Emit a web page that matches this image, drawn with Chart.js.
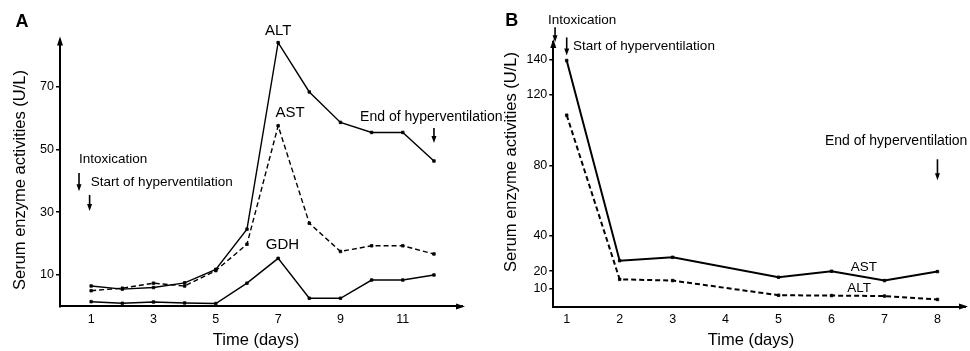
<!DOCTYPE html>
<html>
<head>
<meta charset="utf-8">
<script src="https://cdn.jsdelivr.net/npm/chart.js@4.4.1/dist/chart.umd.min.js"></script>
<style>
  body { margin: 0; background: #fff; }
  canvas { position: absolute; top: 0; }
  #chartA { left: 0; }
  #chartB { left: 485px; }
</style>
</head>
<body>
<canvas id="chartA" width="520" height="351"></canvas>
<canvas id="chartB" width="485" height="351"></canvas>
<script>
// Panel A data (days 1-12)
const daysA = [1, 2, 3, 4, 5, 6, 7, 8, 9, 10, 11, 12];
const altA = [6.5, 5.5, 6.0, 7.5, 11.8, 24.6, 84.0, 68.3, 58.6, 55.4, 55.4, 46.3];
const astA = [5.0, 5.8, 7.4, 6.5, 11.4, 19.8, 57.5, 26.5, 17.5, 19.3, 19.3, 16.7];
const gdhA = [1.5, 1.0, 1.4, 1.1, 0.9, 7.4, 15.3, 2.6, 2.6, 8.4, 8.4, 10.0];
const xTicksA = [1, 3, 5, 7, 9, 11];
const yTicksA = [10, 30, 50, 70];

// Panel B data
const daysB = [1, 2, 3, 5, 6, 7, 8];
const astB = [139.5, 26.0, 27.9, 16.6, 20.0, 14.7, 19.8];
const altB = [108.5, 15.4, 14.7, 6.4, 6.2, 5.9, 4.0];
const xTicksB = [1, 2, 3, 4, 5, 6, 7, 8];
const yTicksB = [10, 20, 40, 80, 120, 140];

const FONT = "'Liberation Sans', Arial, Helvetica, sans-serif";

function pts(xs, ys) {
  return xs.map((x, i) => ({ x: x, y: ys[i] }));
}

function drawArrow(ctx, x, y1, y2, head, half, lw) {
  ctx.lineWidth = lw;
  ctx.beginPath();
  ctx.moveTo(x, y1);
  ctx.lineTo(x, y2 - head + 1);
  ctx.stroke();
  ctx.beginPath();
  ctx.moveTo(x, y2);
  ctx.lineTo(x - half, y2 - head);
  ctx.lineTo(x + half, y2 - head);
  ctx.closePath();
  ctx.fill();
}

const panelDecor = {
  id: "panelDecor",
  afterDraw(chart, args, opts) {
    const { ctx, chartArea: a, scales: { x, y } } = chart;
    ctx.save();
    ctx.fillStyle = "#000";
    ctx.strokeStyle = "#000";

    // axis arrowheads
    ctx.beginPath();
    ctx.moveTo(a.right + 3, a.bottom);
    ctx.lineTo(a.right - 6, a.bottom - 3);
    ctx.lineTo(a.right - 6, a.bottom + 3);
    ctx.closePath();
    ctx.fill();
    ctx.beginPath();
    ctx.moveTo(a.left, a.top - 3);
    ctx.lineTo(a.left - 3, a.top + 6);
    ctx.lineTo(a.left + 3, a.top + 6);
    ctx.closePath();
    ctx.fill();

    // text notes placed in data coordinates
    ctx.textBaseline = "middle";
    opts.notes.forEach(n => {
      ctx.font = n.font;
      ctx.textAlign = n.align || "center";
      ctx.fillText(n.text, x.getPixelForValue(n.x), y.getPixelForValue(n.y));
    });

    // down arrows
    opts.arrows.forEach(r => {
      drawArrow(ctx, x.getPixelForValue(r.x), y.getPixelForValue(r.y1), y.getPixelForValue(r.y2), 7, 2.5, 1.6);
    });

    // panel letter
    ctx.font = "bold 18px " + FONT;
    ctx.textAlign = "center";
    ctx.fillText(opts.letter.text, opts.letter.x, opts.letter.y);

    // axis titles
    ctx.font = "16.5px " + FONT;
    ctx.fillText("Time (days)", opts.xTitle.x, opts.xTitle.y);
    ctx.save();
    ctx.translate(opts.yTitle.x, opts.yTitle.y);
    ctx.rotate(-Math.PI / 2);
    ctx.fillText("Serum enzyme activities (U/L)", 0, 0);
    ctx.restore();

    ctx.restore();
  }
};

function lineSet(label, data, dashed, lw) {
  return {
    label: label,
    data: data,
    borderColor: "#000",
    backgroundColor: "#000",
    borderWidth: lw,
    borderDash: dashed ? [5, 3] : [],
    pointStyle: "rect",
    pointRadius: 1.8,
    pointBorderWidth: 0.8,
    pointBackgroundColor: "#000",
    pointBorderColor: "#000",
    tension: 0,
    fill: false
  };
}

function makeChart(id, datasets, cfg) {
  return new Chart(document.getElementById(id), {
    type: "line",
    data: { datasets: datasets },
    options: {
      responsive: false,
      animation: false,
      layout: { padding: cfg.padding },
      plugins: {
        legend: { display: false },
        tooltip: { enabled: false },
        panelDecor: cfg.decor
      },
      scales: {
        x: {
          type: "linear",
          min: cfg.xMin,
          max: cfg.xMax,
          afterBuildTicks: s => { s.ticks = cfg.xTicks.map(v => ({ value: v })); },
          afterFit: s => { s.height = cfg.xHeight; },
          grid: { display: false, drawTicks: false },
          border: { display: true, color: "#000", width: 2 },
          ticks: { color: "#000", padding: 6, font: { family: FONT, size: 12.5 } }
        },
        y: {
          min: 0,
          max: cfg.yMax,
          afterBuildTicks: s => { s.ticks = cfg.yTicks.map(v => ({ value: v })); },
          afterFit: s => { s.width = cfg.yWidth; },
          grid: { drawOnChartArea: false, drawTicks: true, tickLength: 4, color: "#000", lineWidth: 1.5 },
          border: { display: true, color: "#000", width: 2 },
          ticks: { color: "#000", padding: 2, font: { family: FONT, size: 12.5 } }
        }
      }
    },
    plugins: [panelDecor]
  });
}

// Panel A
makeChart("chartA", [
  lineSet("ALT", pts(daysA, altA), false, 1.4),
  lineSet("AST", pts(daysA, astA), true, 1.4),
  lineSet("GDH", pts(daysA, gdhA), false, 1.4)
], {
  padding: { left: 0, right: 58, top: 39.5, bottom: 0 },
  xMin: 0, xMax: 12.9, yMax: 85,
  xTicks: xTicksA, yTicks: yTicksA,
  xHeight: 44.6, yWidth: 60,
  decor: {
    letter: { text: "A", x: 22, y: 22 },
    xTitle: { x: 256, y: 340 },
    yTitle: { x: 20, y: 180 },
    notes: [
      { text: "ALT", x: 7, y: 87.7, font: "15px " + FONT },
      { text: "AST", x: 7.38, y: 61.6, font: "15px " + FONT },
      { text: "GDH", x: 7.14, y: 19.5, font: "15px " + FONT },
      { text: "End of hyperventilation", x: 9.63, y: 60.3, align: "left", font: "14px " + FONT },
      { text: "Intoxication", x: 0.61, y: 47, align: "left", font: "13.5px " + FONT },
      { text: "Start of hyperventilation", x: 0.99, y: 39.6, align: "left", font: "13.5px " + FONT }
    ],
    arrows: [
      { x: 12, y1: 56.8, y2: 52 },
      { x: 0.61, y1: 42.5, y2: 36.7 },
      { x: 0.95, y1: 35.5, y2: 30.4 }
    ]
  }
});

// Panel B
makeChart("chartB", [
  lineSet("AST", pts(daysB, astB), false, 2),
  lineSet("ALT", pts(daysB, altB), true, 2)
], {
  padding: { left: 0, right: 5, top: 42, bottom: 0 },
  xMin: 0.747, xMax: 8.52, yMax: 150,
  xTicks: xTicksB, yTicks: yTicksB,
  xHeight: 44.5, yWidth: 68.3,
  decor: {
    letter: { text: "B", x: 26.7, y: 21 },
    xTitle: { x: 266, y: 340 },
    yTitle: { x: 26.7, y: 162 },
    notes: [
      { text: "Intoxication", x: 0.647, y: 162.2, align: "left", font: "13.5px " + FONT },
      { text: "Start of hyperventilation", x: 1.12, y: 147.5, align: "left", font: "13.5px " + FONT },
      { text: "End of hyperventilation", x: 5.876, y: 93.9, align: "left", font: "14px " + FONT },
      { text: "AST", x: 6.61, y: 22.5, font: "13.5px " + FONT },
      { text: "ALT", x: 6.52, y: 10.3, font: "13.5px " + FONT }
    ],
    arrows: [
      { x: 0.78, y1: 158.3, y2: 149.8 },
      { x: 1.0, y1: 152.6, y2: 142.4 },
      { x: 8, y1: 83.5, y2: 71.6 }
    ]
  }
});
</script>
</body>
</html>
